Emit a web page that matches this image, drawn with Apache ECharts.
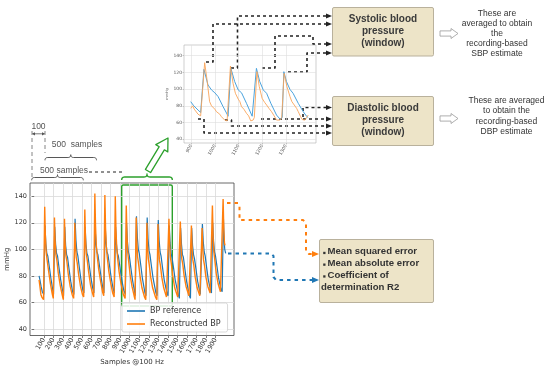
<!DOCTYPE html>
<html><head><meta charset="utf-8">
<script src="https://cdn.jsdelivr.net/npm/echarts@6/dist/echarts.min.js"></script>
<style>html,body{margin:0;padding:0;background:#fff}#c{width:550px;height:371px}</style>
</head><body><div id="c"></div>
<script>
// ---------- data ----------
const xTicks = [100,200,300,400,500,600,700,800,900,1000,1100,1200,1300,1400,1500,1600,1700,1800,1900];
const yTicks = [40,60,80,100,120,140];
const insetXTicks = [900,1000,1100,1200,1300];
const insetYTicks = [40,60,80,100,120,140];
const seriesNames = ['BP reference','Reconstructed BP'];

// main chart: BP reference (blue) [sample, mmHg]
const refBP = [
 [51,80],[60,77],[72,72],[85,68],[100,66],
 [113,118],[122,104],[132,97],[142,95],[158,87],[175,78],[195,69],
 [202,66],[215,117],[224,104],[234,97],[244,95],[260,86],[277,77],[297,69],
 [307,65],[320,117],[329,103],[339,96],[349,94],[365,85],[382,76],[402,68],
 [415,66],[428,123],[437,107],[447,98],[457,95],[473,86],[490,77],[510,69],
 [520,67],[533,117],[542,104],[552,97],[562,95],[578,87],[595,78],[615,70],
 [625,67],[638,116],[647,104],[657,98],[667,96],[683,88],[700,79],[720,70],
 [730,67],[743,118],[752,105],[762,98],[772,96],[788,88],[805,79],[827,70],
 [839,67],[852,117],[861,104],[871,97],[881,95],[897,87],[914,78],[938,69],
 [954,66],[967,120],[976,106],[986,98],[996,95],[1012,86],[1029,77],[1051,68],
 [1058,65],[1071,125],[1080,109],[1090,100],[1100,97],[1116,88],[1133,78],[1160,67],
 [1170,65],[1183,124],[1192,108],[1202,99],[1212,96],[1228,87],[1245,78],[1275,67],
 [1286,65],[1299,122],[1308,107],[1318,98],[1328,95],[1344,86],[1361,77],[1390,67],
 [1401,65],[1414,118],[1423,105],[1433,97],[1443,94],[1459,86],[1476,77],[1508,66],
 [1520,63],[1533,116],[1542,104],[1552,96],[1562,94],[1578,85],[1595,76],[1625,65],
 [1636,63],[1649,116],[1658,103],[1668,96],[1678,93],[1694,85],[1711,76],[1739,66],
 [1748,65],[1761,119],[1770,106],[1780,98],[1790,95],[1806,86],[1823,77],[1847,69],
 [1856,67],[1869,120],[1878,106],[1888,98],[1898,95],[1914,87],[1931,78],[1955,70],
 [1968,68],[1981,124],[1988,108],[1995,100],[2005,97]
];
// main chart: reconstructed BP (orange)
const reconBP = [
 [51,77],[60,72],[70,66],[80,64],[98,62],
 [110,132],[117,110],[125,98],[135,92],[150,84],[170,74],[190,66],
 [200,63],[212,124],[219,106],[227,96],[237,92],[252,82],[272,73],[292,66],
 [305,62],[317,123],[324,104],[332,95],[342,91],[357,81],[377,72],[397,66],
 [413,63],[425,120],[432,103],[440,94],[450,90],[465,81],[485,72],[505,66],
 [518,64],[530,130],[537,108],[545,97],[555,92],[570,83],[590,73],[610,67],
 [623,64],[635,142],[642,118],[650,103],[660,95],[675,85],[695,76],[715,68],
 [728,65],[740,141],[747,116],[755,102],[765,94],[780,84],[800,75],[822,67],
 [837,64],[849,140],[856,115],[864,101],[874,93],[889,83],[909,74],[933,66],
 [952,63],[964,133],[971,110],[979,98],[989,91],[1004,81],[1024,72],[1046,65],
 [1056,62],[1068,124],[1075,104],[1083,94],[1093,89],[1108,80],[1128,71],[1155,64],
 [1168,62],[1180,120],[1187,102],[1195,93],[1205,88],[1220,79],[1240,71],[1270,64],
 [1284,62],[1296,119],[1303,101],[1311,92],[1321,88],[1336,79],[1356,71],[1385,64],
 [1399,63],[1411,123],[1418,104],[1426,94],[1436,89],[1451,80],[1471,71],[1503,64],
 [1518,63],[1530,121],[1537,103],[1545,93],[1555,89],[1570,80],[1590,72],[1620,65],
 [1634,64],[1646,118],[1653,101],[1661,92],[1671,88],[1686,79],[1706,71],[1734,65],
 [1746,65],[1758,116],[1765,100],[1773,92],[1783,88],[1798,79],[1818,72],[1842,67],
 [1854,66],[1866,133],[1873,110],[1881,98],[1891,92],[1906,82],[1926,74],[1950,68],
 [1966,67],[1978,138],[1985,115],[1992,105],[1998,103]
];
// inset (window) chart
const insetRef = [
 [897,85],[910,80],[928,75],[939,72],[943,70],[953,123.6],[970,105],[985,99],[999,95.6],[1013,91],
 [1034,79],[1051,70],[1055,67.6],[1067,124.8],[1083,109],[1098,99],[1112,95.6],[1133,83],[1157,67.6],
 [1165,66],[1175,124.8],[1189,109],[1204,99],[1218,95],[1236,83],[1260,69],[1274,64.4],[1284,66],
 [1291,120.8],[1302,109],[1317,99.6],[1330,95],[1352,83],[1373,73],[1387,67.6],[1394,66]
];
const insetRecon = [
 [897,77],[905,80],[912,76],[920,78],[928,70],[939,68],[942,70],[956,131.6],[966,111],[977,85],
 [985,80],[992,79],[999,76],[1006,73],[1013,74],[1020,70],[1027,67],[1041,63],[1051,62],[1056,64],
 [1065,127.6],[1076,107],[1086,95],[1098,88],[1105,85],[1112,79],[1122,76],[1133,71],[1142,68],
 [1151,62],[1161,63],[1166,66],[1177,120.8],[1187,103],[1199,89],[1210,84],[1218,81],[1228,77],
 [1239,73],[1250,68],[1260,63],[1274,63],[1282,66],[1292,118.8],[1304,103],[1317,91],[1325,85],
 [1335,81],[1345,77],[1352,73],[1362,67],[1369,63.6],[1380,63],[1387,66],[1394,69]
];

// ---------- helpers for annotation graphics ----------
const SANS = 'Liberation Sans, Arial, sans-serif';
const DJ = 'DejaVu Sans, sans-serif';
function txt(x, y, s, o) {
  return {type:'text', x:x, y:y, silent:true,
    style:Object.assign({text:s, fill:'#444', font:'8.5px ' + SANS, textAlign:'center', textVerticalAlign:'middle'}, o || {})};
}
function line(pts, color, w, dash) {
  return {type:'polyline', silent:true, shape:{points:pts},
    style:{stroke:color, lineWidth:w, lineDash:dash || null, fill:null, lineCap:'butt', lineJoin:'round'}};
}
function tri(pts, color) {
  return {type:'polygon', silent:true, shape:{points:pts}, style:{fill:color, stroke:null}};
}
function quad(p0, c, p1, out) {
  for (let i = 1; i <= 6; i++) {
    const t = i / 6, a = (1 - t) * (1 - t), b = 2 * (1 - t) * t, d = t * t;
    out.push([a * p0[0] + b * c[0] + d * p1[0], a * p0[1] + b * c[1] + d * p1[1]]);
  }
}
function brace(x0, x1, y, h, color, w) {
  const m = (x0 + x1) / 2, pts = [[x0, y + h]];
  quad([x0, y + h], [x0, y], [x0 + h, y], pts);
  pts.push([m - h, y]);
  quad([m - h, y], [m, y], [m, y - h], pts);
  quad([m, y - h], [m, y], [m + h, y], pts);
  pts.push([x1 - h, y]);
  quad([x1 - h, y], [x1, y], [x1, y + h], pts);
  return line(pts, color, w);
}
function blockArrow(tx, ty, hx, hy, sw, hw, hl, stroke, fill, lw) {
  const dx = hx - tx, dy = hy - ty, L = Math.hypot(dx, dy);
  const ux = dx / L, uy = dy / L, nx = -uy, ny = ux;
  const bx = tx + ux * (L - hl), by = ty + uy * (L - hl);
  const p = (x, y, k) => [x + nx * k, y + ny * k];
  return {type:'polygon', silent:true, shape:{points:[
    p(tx,ty,-sw), p(bx,by,-sw), p(bx,by,-hw), [hx,hy], p(bx,by,hw), p(bx,by,sw), p(tx,ty,sw)]},
    style:{stroke:stroke, fill:fill, lineWidth:lw, lineJoin:'round'}};
}
function box(x, y, w, h) {
  return {type:'rect', silent:true, shape:{x:x, y:y, width:w, height:h, r:1.5},
    style:{fill:'#ede4c8', stroke:'#b9b19c', lineWidth:1}};
}

const K = '#222';
const DASH = [3, 3];
const g = [];
// sample annotations (top-left)
g.push(txt(38.5, 127, '100', {fill:'#555'}));
g.push(line([[32.5,133.8],[44.5,133.8]], '#555', 0.8));
g.push(tri([[32,133.8],[35,132.2],[35,135.4]], '#555'));
g.push(tri([[45,133.8],[42,132.2],[42,135.4]], '#555'));
g.push(line([[32,131],[32,177]], '#777', 0.9, [4,3]));
g.push(line([[45,131],[45,153]], '#777', 0.9, [4,3]));
g.push(txt(77, 145, '500  samples', {fill:'#555'}));
g.push(brace(45, 96.5, 157.5, 2.8, '#444', 0.9));
g.push(txt(64, 170.5, '500 samples', {fill:'#555'}));
g.push(brace(31.7, 83.3, 177.5, 2.8, '#444', 0.9));
g.push(line([[89,172],[123,172]], K, 1, DASH));
// green window
g.push(brace(121.7, 172.3, 177, 3, '#2ca02c', 1.4));
g.push({type:'rect', silent:true, shape:{x:121.7, y:185, width:50.6, height:121, r:1.5},
  style:{stroke:'#2ca02c', lineWidth:1.4, fill:null}});
g.push(blockArrow(148, 171, 168, 138, 3, 7, 12, '#2ca02c', '#fff', 1.3));
// systolic / diastolic boxes
g.push(box(332.5, 7.5, 101, 48.5));
g.push(txt(383, 31.7, 'Systolic blood\npressure\n(window)', {font:'bold 10px ' + SANS, fill:'#3a3a3a', lineHeight:12}));
g.push(box(332.5, 96.5, 101, 49));
g.push(txt(383, 119.8, 'Diastolic blood\npressure\n(window)', {font:'bold 10px ' + SANS, fill:'#3a3a3a', lineHeight:12}));
g.push(blockArrow(440, 33.5, 458, 33.5, 2.6, 5, 7, '#9a9a9a', '#fff', 0.8));
g.push(blockArrow(440, 118.5, 458, 118.5, 2.6, 5, 7, '#9a9a9a', '#fff', 0.8));
g.push(txt(497, 34, 'These are\naveraged to obtain\nthe\nrecording-based\nSBP estimate', {fill:'#333', lineHeight:10}));
g.push(txt(506.5, 116.2, 'These are averaged\nto obtain the\nrecording-based\nDBP estimate', {fill:'#333', lineHeight:10.3}));
// metrics box
g.push(box(319.5, 239.5, 114, 63));
[[251.5,'Mean squared error'],[263.2,'Mean absolute error'],[275,'Coefficient of']].forEach(function (r) {
  g.push({type:'rect', silent:true, shape:{x:323.2, y:r[0]+0.3, width:2.3, height:2.3}, style:{fill:'#333'}});
  g.push(txt(327.5, r[0], r[1], {font:'bold 9.6px ' + SANS, fill:'#333', textAlign:'left'}));
});
g.push(txt(321, 287, 'determination R2', {font:'bold 9.6px ' + SANS, fill:'#333', textAlign:'left'}));
// connectors: peaks -> systolic
function arrowTo(pts, y, color) {
  g.push(line(pts, color, 1.6, DASH));
  g.push(tri([[326, y - 2.4],[332, y],[326, y + 2.4]], color));
}
arrowTo([[206,62],[213,62],[213,24],[326,24]], 24, K);
arrowTo([[231,68],[237.5,68],[237.5,16],[326,16]], 16, K);
arrowTo([[262,68],[275,68],[275,36],[313,36],[313,44],[326,44]], 44, K);
arrowTo([[288,72],[307,72],[307,53],[326,53]], 53, K);
// troughs -> diastolic
arrowTo([[198,119],[204,119],[204,133],[326,133]], 133, K);
arrowTo([[225,120],[231.5,120],[231.5,126],[326,126]], 126, K);
arrowTo([[261,119],[326,119]], 119, K);
arrowTo([[303,117],[303,107.5],[326,107.5]], 107.5, K);
// main chart -> metrics
g.push(line([[227,203],[238,203],[239.5,206],[239.5,220],[303,220],[306,223],[306,251],[309,254],[313,254]], '#ff7f0e', 2, [3.5,4]));
g.push(tri([[312,251],[319,254],[312,257]], '#ff7f0e'));
g.push(line([[228,253.5],[271,253.5],[273.5,256],[273.5,277],[276,280],[313,280]], '#1f77b4', 2, [3.5,4]));
g.push(tri([[312,277],[319,280],[312,283]], '#1f77b4'));

// ---------- chart ----------
const chart = echarts.init(document.getElementById('c'), null, {renderer:'canvas'});
const plain = function (v) { return String(v); };
const lblMain = {fontSize:6.5, color:'#333', fontFamily:DJ, formatter:plain};
const lblInset = {fontSize:4.5, color:'#555', fontFamily:DJ, formatter:plain};
chart.setOption({
  animation:false,
  backgroundColor:'#fff',
  grid:[
    {left:30, top:183, width:204, height:152.5, show:true, borderColor:'#444', borderWidth:0.8, backgroundColor:'transparent'},
    {left:184, top:45, width:132, height:98, show:true, borderColor:'#b0b0b0', borderWidth:0.6, backgroundColor:'transparent'}
  ],
  xAxis:[
    {gridIndex:0, type:'value', min:-44, max:2092,
     axisLine:{show:false}, axisTick:{show:true, customValues:xTicks, length:2.5, lineStyle:{color:'#444', width:0.7}},
     axisLabel:Object.assign({customValues:xTicks, rotate:60, margin:3}, lblMain),
     splitLine:{show:true, lineStyle:{color:'#d9d9d9', width:0.8}},
     name:'Samples @100 Hz', nameLocation:'middle', nameGap:23, nameTextStyle:{fontSize:7, color:'#333', fontFamily:DJ}},
    {gridIndex:1, type:'value', min:868.6, max:1427,
     axisLine:{show:false}, axisTick:{show:true, customValues:insetXTicks, length:1.5, lineStyle:{color:'#999', width:0.5}},
     axisLabel:Object.assign({customValues:insetXTicks, rotate:60, margin:2}, lblInset),
     splitLine:{show:true, lineStyle:{color:'#dedede', width:0.6}}}
  ],
  yAxis:[
    {gridIndex:0, type:'value', min:35, max:150,
     axisLine:{show:false}, axisTick:{show:true, customValues:yTicks, length:2.5, lineStyle:{color:'#444', width:0.7}},
     axisLabel:Object.assign({customValues:yTicks, margin:3}, lblMain),
     splitLine:{show:true, lineStyle:{color:'#d9d9d9', width:0.8}},
     name:'mmHg', nameLocation:'middle', nameGap:16, nameTextStyle:{fontSize:7, color:'#333', fontFamily:DJ}},
    {gridIndex:1, type:'value', min:35.6, max:152.7,
     axisLine:{show:false}, axisTick:{show:true, customValues:insetYTicks, length:1.5, lineStyle:{color:'#999', width:0.5}},
     axisLabel:Object.assign({customValues:insetYTicks, margin:2}, lblInset),
     splitLine:{show:true, lineStyle:{color:'#dedede', width:0.6}},
     name:'mmHg', nameLocation:'middle', nameGap:12, nameTextStyle:{fontSize:3.5, color:'#666', fontFamily:DJ}}
  ],
  legend:{data:seriesNames, orient:'vertical', left:122, top:303, icon:'rect', itemWidth:18, itemHeight:1.6,
    itemGap:3, padding:[3,7,3,5], backgroundColor:'rgba(255,255,255,0.85)', borderColor:'#cfcfcf', borderWidth:0.8, borderRadius:2,
    textStyle:{fontSize:8, color:'#333', fontFamily:DJ, lineHeight:10}, selectedMode:false},
  series:[
    {name:seriesNames[0], type:'line', xAxisIndex:0, yAxisIndex:0, data:refBP, symbol:'none', color:'#1f77b4',
     lineStyle:{width:1.2, color:'#1f77b4'}, z:2},
    {name:seriesNames[1], type:'line', xAxisIndex:0, yAxisIndex:0, data:reconBP, symbol:'none', color:'#ff7f0e',
     lineStyle:{width:1.4, color:'#ff7f0e'}, z:3},
    {name:seriesNames[0], type:'line', xAxisIndex:1, yAxisIndex:1, data:insetRef, symbol:'none', color:'#4aa3de',
     lineStyle:{width:1, color:'#4aa3de'}, z:2},
    {name:seriesNames[1], type:'line', xAxisIndex:1, yAxisIndex:1, data:insetRecon, symbol:'none', color:'#f9a55a',
     lineStyle:{width:0.9, color:'#f9a55a'}, z:3}
  ],
  graphic:{elements:g}
});
</script>
</body></html>
